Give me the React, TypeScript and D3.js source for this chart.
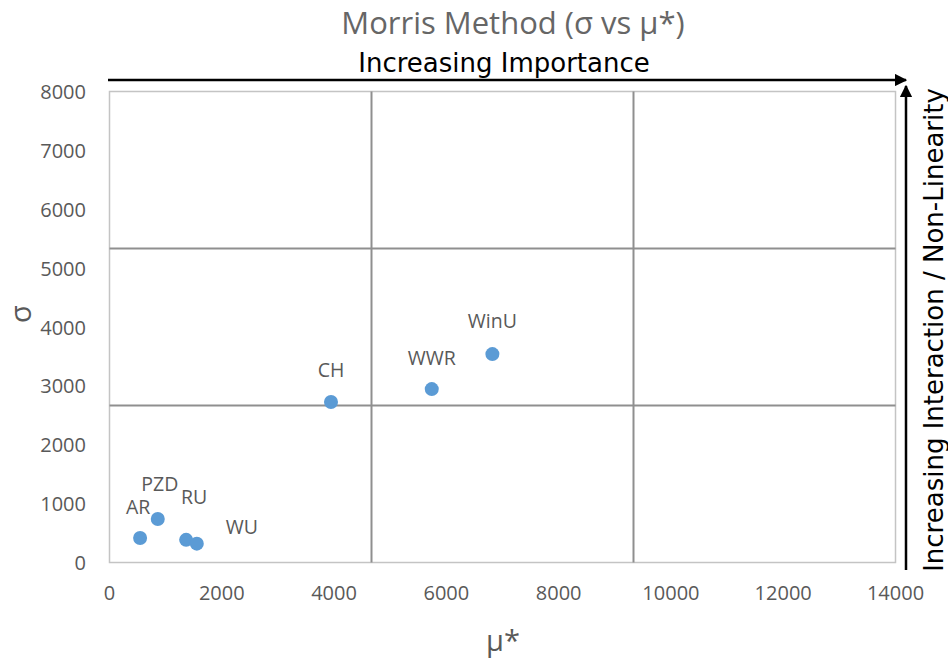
import React from "react";
import * as d3 from "d3";

const names = ["AR", "PZD", "RU", "WU", "CH", "WWR", "WinU"];
const muStar = [545, 860, 1365, 1555, 3945, 5740, 6820];
const sigma = [415, 740, 385, 320, 2725, 2945, 3540];
// label offsets relative to the point (px)
const labelDx = [-2, 2, 8, 45, 0, 0, 0];
const labelDy = [-24, -28, -36, -10, -25, -24, -26];

const xTicks = [0, 2000, 4000, 6000, 8000, 10000, 12000, 14000];
const yTicks = [0, 1000, 2000, 3000, 4000, 5000, 6000, 7000, 8000];
const xDividers = [14000 / 3, 28000 / 3];
const yDividers = [8000 / 3, 16000 / 3];

const W = 948;
const H = 660;
const left = 109.5;
const right = 895.5;
const top = 91.5;
const bottom = 562.5;

export default function App() {
  const x = d3.scaleLinear().domain([0, 14000]).range([left, right]);
  const y = d3.scaleLinear().domain([0, 8000]).range([bottom, top]);
  const tickFont = "'Open Sans', sans-serif";
  const gray = "#595959";
  return (
    <svg
      width={W}
      height={H}
      style={{ position: "absolute", left: 0, top: 0, background: "#fff" }}
    >
      <defs>
        <marker
          id="ah"
          viewBox="0 0 10 10"
          refX="9"
          refY="5"
          markerWidth="5"
          markerHeight="5"
          orient="auto"
        >
          <path d="M0,0 L10,5 L0,10 z" fill="#000" />
        </marker>
      </defs>
      <rect x={0} y={0} width={W} height={H} fill="#fff" />
      {/* title */}
      <text
        x={513}
        y={34}
        textAnchor="middle"
        fontFamily={tickFont}
        fontSize={31}
        fill="#666"
      >
        Morris Method (σ vs μ*)
      </text>
      {/* plot border */}
      <rect
        x={left}
        y={top}
        width={right - left}
        height={bottom - top}
        fill="none"
        stroke="#c4c4c4"
        strokeWidth={1.5}
      />
      {/* quadrant dividers */}
      {xDividers.map((v, i) => (
        <line
          key={"xd" + i}
          x1={x(v)}
          x2={x(v)}
          y1={top}
          y2={bottom}
          stroke="#8f8f8f"
          strokeWidth={2}
        />
      ))}
      {yDividers.map((v, i) => (
        <line
          key={"yd" + i}
          x1={left}
          x2={right}
          y1={y(v)}
          y2={y(v)}
          stroke="#8f8f8f"
          strokeWidth={2}
        />
      ))}
      {/* y tick labels */}
      {yTicks.map((t) => (
        <text
          key={"yt" + t}
          x={86}
          y={y(t) + 7.5}
          textAnchor="end"
          fontFamily={tickFont}
          fontSize={20}
          fill={gray}
        >
          {t}
        </text>
      ))}
      {/* x tick labels */}
      {xTicks.map((t) => (
        <text
          key={"xt" + t}
          x={x(t)}
          y={600}
          textAnchor="middle"
          fontFamily={tickFont}
          fontSize={20}
          fill={gray}
        >
          {t}
        </text>
      ))}
      {/* axis titles */}
      <text
        transform={`translate(31,314) rotate(-90)`}
        textAnchor="middle"
        fontFamily={tickFont}
        fontSize={29}
        fill={gray}
      >
        σ
      </text>
      <text
        x={503}
        y={651}
        textAnchor="middle"
        fontFamily={tickFont}
        fontSize={29}
        fill={gray}
      >
        μ*
      </text>
      {/* points */}
      {names.map((n, i) => (
        <circle
          key={"p" + n}
          cx={x(muStar[i])}
          cy={y(sigma[i])}
          r={7}
          fill="#5b9bd5"
        />
      ))}
      {names.map((n, i) => (
        <text
          key={"l" + n}
          x={x(muStar[i]) + labelDx[i]}
          y={y(sigma[i]) + labelDy[i]}
          textAnchor="middle"
          fontFamily={tickFont}
          fontSize={19.5}
          fill={gray}
        >
          {n}
        </text>
      ))}
      {/* arrows */}
      <line
        x1={108}
        y1={80}
        x2={906}
        y2={80}
        stroke="#000"
        strokeWidth={2.5}
        markerEnd="url(#ah)"
      />
      <line
        x1={906}
        y1={570}
        x2={906}
        y2={86}
        stroke="#000"
        strokeWidth={2.5}
        markerEnd="url(#ah)"
      />
      <text
        x={504}
        y={72}
        textAnchor="middle"
        fontFamily="'DejaVu Sans', sans-serif"
        fontSize={26}
        fill="#000"
      >
        Increasing Importance
      </text>
      <text
        transform={`translate(943,330) rotate(-90)`}
        textAnchor="middle"
        fontFamily="'DejaVu Sans', sans-serif"
        fontSize={26}
        fill="#000"
      >
        Increasing Interaction / Non-Linearity
      </text>
    </svg>
  );
}
